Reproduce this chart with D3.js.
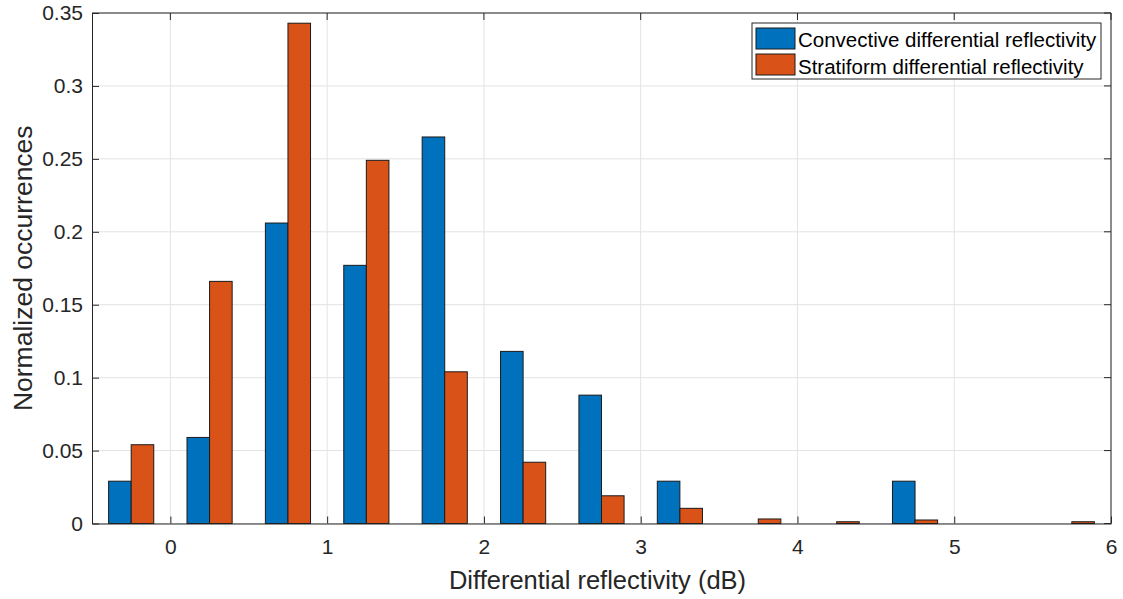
<!DOCTYPE html>
<html>
<head>
<meta charset="utf-8">
<script src="https://cdn.jsdelivr.net/npm/d3@7"></script>
<style>
  body { margin: 0; background: #fff; }
  text { font-family: "Liberation Sans", Arial, sans-serif; }
</style>
</head>
<body>
<svg id="chart" width="1123" height="599"></svg>
<script>
// bin centres (dB) and normalized occurrences
const binCenters = [-0.25, 0.25, 0.75, 1.25, 1.75, 2.25, 2.75, 3.25, 3.75, 4.25, 4.75, 5.25, 5.75];
const convective = [0.029, 0.059, 0.206, 0.177, 0.265, 0.118, 0.088, 0.029, 0, 0, 0.029, 0, 0];
const stratiform = [0.054, 0.166, 0.343, 0.249, 0.104, 0.042, 0.019, 0.0104, 0.0031, 0.0012, 0.0024, 0, 0.0012];
const seriesNames = ["Convective differential reflectivity", "Stratiform differential reflectivity"];
const xTicks = [0, 1, 2, 3, 4, 5, 6];
const yTicks = [0, 0.05, 0.1, 0.15, 0.2, 0.25, 0.3, 0.35];

const colors = ["#0072BD", "#D95319"];
const svg = d3.select("#chart");
const margin = { left: 92, right: 12, top: 13, bottom: 75.5 };
const W = 1123, H = 599;

const x = d3.scaleLinear().domain([-0.5, 6]).range([margin.left, W - margin.right]);
const y = d3.scaleLinear().domain([0, 0.35]).range([H - margin.bottom, margin.top]);

const barW = 0.144; // width of one bar in data units

// grid
const grid = svg.append("g");
grid.selectAll("line.vx").data(xTicks).enter().append("line")
    .attr("x1", d => x(d)).attr("x2", d => x(d))
    .attr("y1", y(0)).attr("y2", y(0.35))
    .attr("stroke", "#e3e3e3").attr("stroke-width", 1);
grid.selectAll("line.hy").data(yTicks).enter().append("line")
    .attr("y1", d => y(d)).attr("y2", d => y(d))
    .attr("x1", x(-0.5)).attr("x2", x(6))
    .attr("stroke", "#e3e3e3").attr("stroke-width", 1);

// bars
[convective, stratiform].forEach((vals, si) => {
    svg.append("g").selectAll("rect").data(vals).enter().append("rect")
        .attr("x", (d, i) => x(binCenters[i] + (si - 1) * barW))
        .attr("width", x(barW) - x(0))
        .attr("y", d => y(d))
        .attr("height", d => y(0) - y(d))
        .attr("fill", colors[si])
        .attr("stroke", "#1a1a1a")
        .attr("stroke-width", 1)
        .style("display", d => d > 0 ? null : "none");
});

// axes (MATLAB style, ticks inside, box on)
const axCol = "#262626";
const xAxis = d3.axisBottom(x).tickValues(xTicks).tickSizeInner(-7).tickSizeOuter(0).tickPadding(16).tickFormat(d3.format("d"));
const yAxis = d3.axisLeft(y).tickValues(yTicks).tickSizeInner(-7).tickSizeOuter(0).tickPadding(9).tickFormat(d => d === 0 ? "0" : String(d));

const gx = svg.append("g").attr("transform", `translate(0,${y(0)})`).call(xAxis);
const gy = svg.append("g").attr("transform", `translate(${x(-0.5)},0)`).call(yAxis);
[gx, gy].forEach(g => {
    g.select(".domain").attr("stroke", axCol);
    g.selectAll(".tick line").attr("stroke", axCol);
    g.selectAll(".tick text").attr("fill", axCol).style("font-size", "21px")
        .style("font-family", "'Liberation Sans', Arial, sans-serif");
});

// top / right box with inward ticks
const box = svg.append("g").attr("stroke", axCol).attr("stroke-width", 1);
box.append("line").attr("x1", x(-0.5)).attr("x2", x(6)).attr("y1", y(0.35)).attr("y2", y(0.35));
box.append("line").attr("x1", x(6)).attr("x2", x(6)).attr("y1", y(0)).attr("y2", y(0.35));
box.selectAll("line.tt").data(xTicks).enter().append("line")
    .attr("x1", d => x(d)).attr("x2", d => x(d)).attr("y1", y(0.35)).attr("y2", y(0.35) + 7);
box.selectAll("line.rt").data(yTicks).enter().append("line")
    .attr("y1", d => y(d)).attr("y2", d => y(d)).attr("x1", x(6)).attr("x2", x(6) - 7);

// axis labels
svg.append("text")
    .attr("x", (x(-0.5) + x(6)) / 2 - 4).attr("y", 589)
    .attr("text-anchor", "middle").attr("fill", axCol).style("font-size", "25.5px")
    .text("Differential reflectivity (dB)");
svg.append("text")
    .attr("transform", `translate(32,${(y(0) + y(0.35)) / 2}) rotate(-90)`)
    .attr("text-anchor", "middle").attr("fill", axCol).style("font-size", "26.5px")
    .text("Normalized occurrences");

// legend
const lg = svg.append("g").attr("transform", "translate(752,23)");
lg.append("rect").attr("width", 349).attr("height", 56)
    .attr("fill", "#fff").attr("stroke", "#262626").attr("stroke-width", 1);
seriesNames.forEach((name, i) => {
    lg.append("rect").attr("x", 4).attr("y", 5 + i * 26).attr("width", 39).attr("height", 21)
        .attr("fill", colors[i]).attr("stroke", "#1a1a1a");
    lg.append("text").attr("x", 46).attr("y", 24 + i * 26.5)
        .attr("fill", "#000").style("font-size", "20.5px").text(name);
});
</script>
</body>
</html>
